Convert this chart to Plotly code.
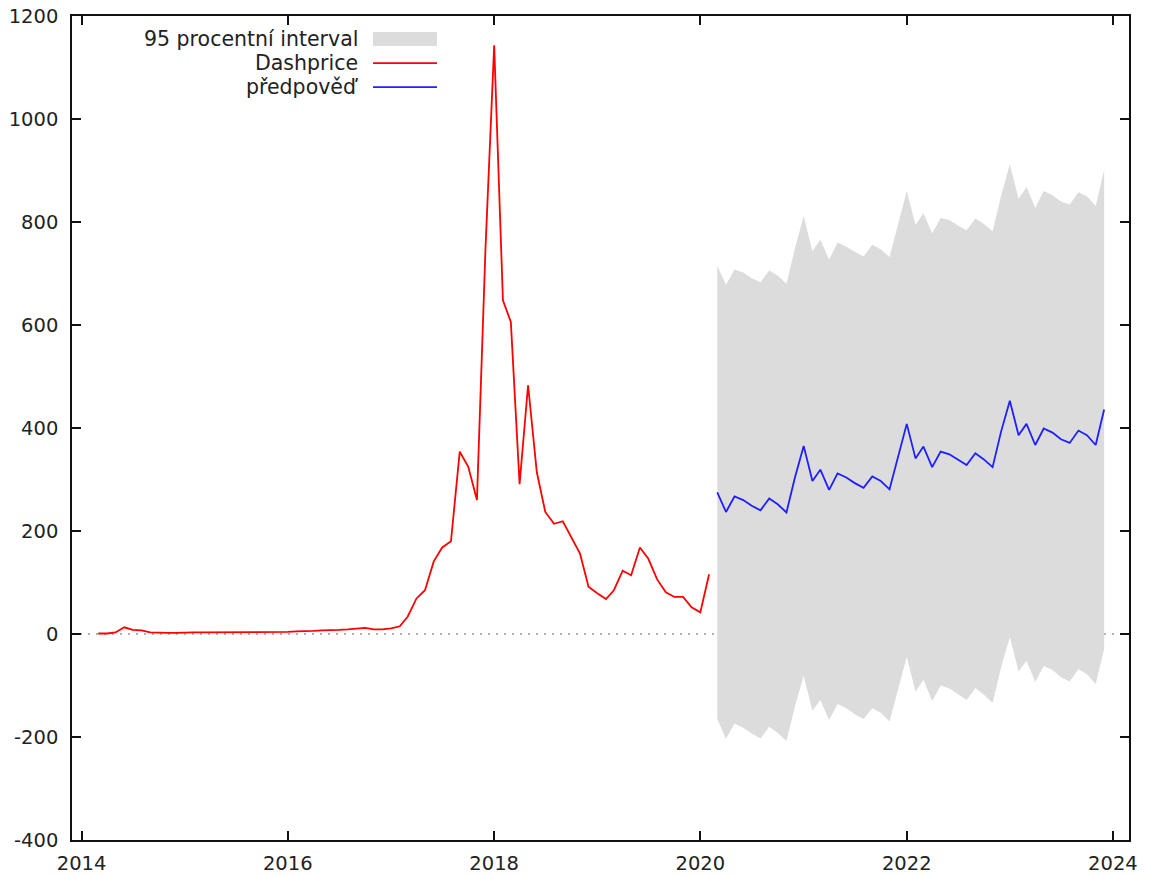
import pandas as pd
import plotly.graph_objects as go

# ---- data ----
dash_start = "2014-03-01"
dash_price = [1, 1, 3, 13, 8, 7, 3, 2, 2, 2,            # 2014 Mar-Dec
              3, 3, 3, 3, 3, 3, 3, 3, 3, 3, 3, 3,       # 2015
              4, 5, 5, 6, 7, 7, 8, 9, 11, 12, 9, 9,     # 2016
              11, 15, 34, 69, 85, 141, 168, 180, 354, 325, 260, 745,   # 2017
              1143, 648, 606, 291, 483, 314, 237, 214, 219, 187, 156, 92,  # 2018
              79, 68, 85, 123, 114, 168, 146, 106, 81, 72, 72, 52,     # 2019
              42, 116]                                   # 2020 Jan-Feb

fc_start = "2020-03-01"
forecast = [275, 237, 267, 260, 249, 240, 263, 252, 236, 304,
            365, 297, 319, 280, 312, 304, 293, 284, 306, 297,
            281, 345, 408, 341, 364, 324, 354, 349, 338, 328,
            351, 339, 324, 393, 453, 386, 408, 367, 399, 391,
            378, 371, 395, 386, 367, 436]
upper = [715, 678, 708, 702, 691, 683, 706, 696, 680, 749,
         811, 743, 766, 727, 760, 752, 742, 733, 756, 747,
         732, 797, 860, 794, 817, 778, 808, 804, 793, 784,
         807, 796, 782, 851, 912, 845, 868, 827, 860, 852,
         840, 834, 858, 850, 831, 901]
lower = [-165, -204, -174, -182, -193, -203, -180, -192, -208, -141,
         -81, -149, -128, -167, -136, -144, -156, -165, -144, -153,
         -170, -107, -44, -112, -89, -130, -100, -106, -117, -128,
         -105, -118, -134, -65, -6, -73, -52, -93, -62, -70,
         -84, -92, -68, -78, -97, -29]

legend_labels = ["95 procentní interval", "Dashprice", "předpověď"]
y_ticks = [-400, -200, 0, 200, 400, 600, 800, 1000, 1200]
y_tick_text = ["-400", "-200", "0", "200", "400", "600", "800", "1000", "1200"]

dash_x = pd.date_range(dash_start, periods=len(dash_price), freq="MS")
fc_x = pd.date_range(fc_start, periods=len(forecast), freq="MS")

BAND = "#dcdcdc"
RED = "#ff0000"
BLUE = "#1f1fff"
FONT = "DejaVu Sans"
FS = 19.5
LW = 1.8

fig = go.Figure()
fig.add_trace(go.Scatter(x=fc_x, y=lower, mode="lines", line=dict(width=0),
                         hoverinfo="skip", showlegend=False))
fig.add_trace(go.Scatter(x=fc_x, y=upper, mode="lines", line=dict(width=0),
                         fill="tonexty", fillcolor=BAND, showlegend=False))
fig.add_trace(go.Scatter(x=dash_x, y=dash_price, mode="lines",
                         line=dict(color=RED, width=LW), showlegend=False))
fig.add_trace(go.Scatter(x=fc_x, y=forecast, mode="lines",
                         line=dict(color=BLUE, width=LW), showlegend=False))

# zero axis (dotted)
fig.add_shape(type="line", xref="paper", yref="y", x0=0, x1=1, y0=0, y1=0,
              line=dict(color="#999999", width=1.4, dash="2px,6px"), layer="below")

# gnuplot-style legend: text right-aligned, sample to the right
text_x = 0.2725
s0, s1 = 0.2848, 0.3453
rows_y = [0.9721, 0.9429, 0.9138]
for lab, yy in zip(legend_labels, rows_y):
    fig.add_annotation(xref="paper", yref="paper", x=text_x, y=yy, text=lab,
                       showarrow=False, xanchor="right", yanchor="middle",
                       font=dict(family=FONT, size=20.5, color="#222222"))
fig.add_shape(type="rect", xref="paper", yref="paper", x0=s0, x1=s1,
              y0=rows_y[0] - 0.0085, y1=rows_y[0] + 0.0085,
              fillcolor=BAND, line=dict(width=0))
fig.add_shape(type="line", xref="paper", yref="paper", x0=s0, x1=s1,
              y0=rows_y[1], y1=rows_y[1], line=dict(color=RED, width=LW))
fig.add_shape(type="line", xref="paper", yref="paper", x0=s0, x1=s1,
              y0=rows_y[2], y1=rows_y[2], line=dict(color=BLUE, width=LW))

axis_common = dict(showline=True, linecolor="#111111", linewidth=1.5, mirror="ticks",
                   ticks="inside", ticklen=9, tickwidth=1.5, tickcolor="#111111",
                   showgrid=False, zeroline=False, automargin=False,
                   ticklabeloverflow="allow",
                   tickfont=dict(family=FONT, size=FS, color="#222222"))

fig.update_layout(
    width=1155, height=875,
    margin=dict(l=72, r=26, t=16, b=35),
    paper_bgcolor="white", plot_bgcolor="white",
    showlegend=False,
    xaxis=dict(type="date", range=["2013-11-28", "2024-02-27"],
               tick0="2014-01-01", dtick="M24", tickformat="%Y",
               ticklabelstandoff=5, **axis_common),
    yaxis=dict(range=[-400, 1200], tickvals=y_ticks, ticktext=y_tick_text,
               ticklabelstandoff=8, **axis_common),
)

# remove the default 8px page margin so the 1155x875 figure fills the window exactly
fig.write_html("out.html", config={"displayModeBar": False},
               post_script="document.body.style.margin='0';document.body.style.overflow='hidden';")
